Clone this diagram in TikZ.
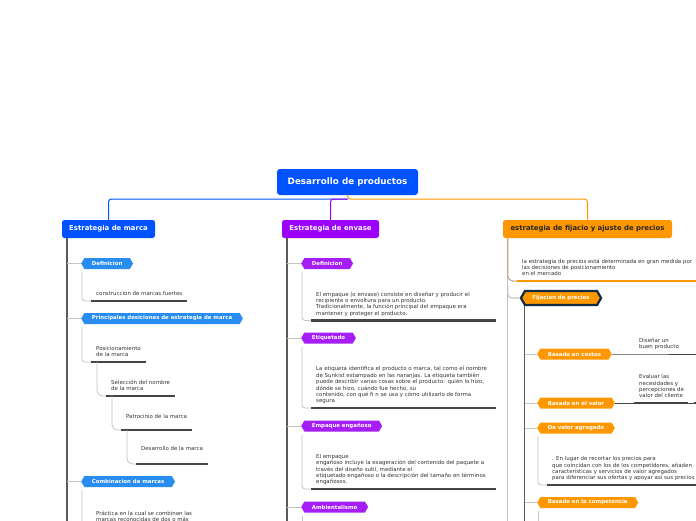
\documentclass[tikz,border=0pt]{standalone}
\usepackage{fontspec}
\setmainfont{DejaVu Sans}
\usetikzlibrary{shapes.symbols}
\definecolor{rootblue}{RGB}{0,82,255}
\definecolor{tagblue}{RGB}{40,140,240}
\definecolor{envpurple}{RGB}{155,0,250}
\definecolor{tagpurple}{RGB}{165,30,245}
\definecolor{precorange}{RGB}{255,152,0}
\definecolor{fijnavy}{RGB}{18,42,66}
\definecolor{inkgray}{RGB}{51,51,51}
\definecolor{bargray}{RGB}{68,68,68}
\definecolor{trunkgray}{RGB}{90,90,90}
\definecolor{twiggray}{RGB}{195,195,195}
\definecolor{tangray}{RGB}{185,160,125}

\tikzset{
  rootbox/.style={fill=rootblue, text=white, rounded corners=3pt,
    font=\fontsize{8.8}{9}\selectfont\bfseries,
    minimum width=141pt, minimum height=26pt, inner sep=0pt},
  colbox/.style={rounded corners=2.5pt, font=\fontsize{6.9}{7}\selectfont\bfseries,
    minimum height=18pt, inner sep=0pt},
  tag/.style={signal, signal to=west and east, signal pointer angle=120,
    anchor=west, minimum height=11pt, inner ysep=0pt, inner xsep=7.5pt,
    text=white, font=\fontsize{5.4}{6}\selectfont\bfseries},
  leaf/.style={anchor=south west, align=left, inner xsep=5pt, inner ysep=3.5pt,
    text depth=1.5pt, text=inkgray, font=\fontsize{5.45}{6.4}\selectfont},
  trunk/.style={trunkgray, line width=1.5pt},
  twig/.style={twiggray, line width=0.8pt},
  bar/.style={bargray, line width=2.5pt},
  thinlink/.style={bargray, line width=0.9pt},
}

\begin{document}
\begin{tikzpicture}[x=1pt, y=-1pt]
\path[fill=white] (0,0) rectangle (696,520);
\useasboundingbox (0,0) rectangle (696,520);

% root
\node[rootbox] (root) at (347.5,182) {Desarrollo de productos};
\node[colbox, fill=rootblue, text=white, minimum width=93pt] (marca) at (108.5,229) {Estrategia de marca};
\node[colbox, fill=envpurple, text=white, minimum width=97pt] (envase) at (330.5,229) {Estrategia de envase};
\node[colbox, fill=precorange, text=black!85, minimum width=169pt] (precios) at (587.5,229) {estrategia de fijacio y ajuste de precios};

\coordinate (hub) at (root.south |- 0,199);
\draw[rootblue, line width=1pt, rounded corners=3pt] (hub) -| (marca.north);
\draw[precorange, line width=1pt, rounded corners=3pt] (root.south) -- (hub) -| (precios.north);
\draw[envpurple, line width=1pt, rounded corners=3pt] (hub) -| (envase.north);

% marca
\coordinate (mtop) at ([xshift=5pt]marca.south west);
\draw[trunk] (mtop) -- (mtop |- 0,540);
\node[tag, fill=tagblue] (mdef) at (81,263.5) {Definicion};
\node[tag, fill=tagblue] (mdec) at (81,318.5) {Principales desiciones de estrategia de marca};
\node[tag, fill=tagblue] (mcomb) at (81,481.5) {Combinacion de marcas};
\foreach \t in {mdef,mdec,mcomb}
  \draw[twig] (mtop |- \t.west) -- (\t.west);

\node[leaf] (mfuertes) at (91,301) {construccion de marcas fuertes};
\draw[bar] (mfuertes.south west) -- ++(96,0);
\draw[twig, rounded corners=3pt] ([shift={(1,8.5)}]mdef.west) |- (mfuertes.south west);

\node[leaf] (mpos) at (91,362) {Posicionamiento\\de la marca};
\node[leaf] (mnom) at (106,396) {Selección del nombre\\de la marca};
\node[leaf, inner ysep=9.5pt] (mpat) at (121,430) {Patrocinio de la marca};
\node[leaf, inner ysep=11.5pt] (mdes) at (136,464) {Desarrollo de la marca};
\draw[bar] (mpos.south west) -- ++(55,0);
\draw[bar] (mnom.south west) -- ++(69,0);
\draw[bar] (mpat.south west) -- ++(71,0);
\draw[bar] (mdes.south west) -- ++(72,0);
\draw[twig, rounded corners=3pt] ([shift={(1,8.5)}]mdec.west) |- (mpos.south west);
\draw[twig, rounded corners=6pt] ([xshift=6pt]mpos.south west) |- (mnom.south west);
\draw[twig, rounded corners=6pt] ([xshift=6pt]mnom.south west) |- (mpat.south west);
\draw[twig, rounded corners=6pt] ([xshift=6pt]mpat.south west) |- (mdes.south west);

\node[leaf] (mprac) at (91,527) {Práctica en la cual se combinan las\\marcas reconocidas de dos o más};
\draw[bar] (mprac.south west) -- ++(110,0);
\draw[twig, rounded corners=3pt] ([shift={(1,8.5)}]mcomb.west) |- (mprac.south west);

% envase
\coordinate (etop) at ([xshift=5pt]envase.south west);
\draw[trunk] (etop) -- (etop |- 0,540);
\node[tag, fill=tagpurple] (edef) at (301,263.5) {Definicion};
\node[tag, fill=tagpurple] (eeti) at (301,338) {Etiquetado};
\node[tag, fill=tagpurple] (eeng) at (301,426) {Empaque engañoso};
\node[tag, fill=tagpurple] (eamb) at (301,507) {Ambientalismo};
\foreach \t in {edef,eeti,eeng,eamb}
  \draw[twig] (etop |- \t.west) -- (\t.west);

\node[leaf] (edeftxt) at (311,320.5) {El empaque (o envase) consiste en diseñar y producir el\\recipiente o envoltura para un producto.\\Tradicionalmente, la función principal del empaque era\\mantener y proteger el producto.};
\node[leaf] (eetitxt) at (311,408) {La etiqueta identifica el producto o marca, tal como el nombre\\de Sunkist estampado en las naranjas. La etiqueta también\\puede describir varias cosas sobre el producto: quién lo hizo,\\dónde se hizo, cuándo fue hecho, su\\contenido, con qué fi n se usa y cómo utilizarlo de forma\\segura};
\node[leaf] (eengtxt) at (311,489) {El empaque\\engañoso incluye la exageración del contenido del paquete a\\través del diseño sutil, mediante el\\etiquetado engañoso o la descripción del tamaño en términos\\engañosos.};
\foreach \t/\s in {edeftxt/edef,eetitxt/eeti,eengtxt/eeng}{
  \draw[bar] (\t.south west) -- ++(185,0);
  \draw[twig, rounded corners=3pt] ([shift={(1,8.5)}]\s.west) |- (\t.south west);
}
\coordinate (eambend) at (302,540);
\draw[twig] ([shift={(1,8.5)}]eamb.west) -- (eambend);

% precios
\coordinate (ptop) at ([xshift=5pt]precios.south west);
\draw[twig, line width=1.1pt] (ptop) -- (ptop |- 0,540);
\node[leaf] (pposic) at (517,281) {la estrategia de precios está determinada en gran medida por\\las decisiones de posicionamiento\\en el mercado};
\draw[precorange, line width=2.5pt] (pposic.south west) -- ++(200,0);
\draw[tangray, line width=1pt, rounded corners=5pt] (ptop) |- (pposic.south west);

\node[tag, fill=precorange, draw=fijnavy, line width=2.2pt, anchor=center,
  minimum height=14pt] (pfij) at (561,298) {Fijacion de precios};
\draw[twig, line width=1.1pt, rounded corners=4pt] (ptop |- 0,286) |- (pfij.west);

\coordinate (ftop) at ([xshift=5pt]pfij.west |- pfij.south);
\draw[trunk] (ftop) -- (ftop |- 0,540);
\node[tag, fill=precorange] (pcos) at (537,354) {Basado en costos};
\node[tag, fill=precorange] (pval) at (537,403) {Basado en el valor};
\node[tag, fill=precorange] (pagr) at (537,428) {De valor agregado};
\node[tag, fill=precorange] (pcomp) at (537,502.5) {Basado en la competencia};
\foreach \t in {pcos,pval,pagr,pcomp}
  \draw[twig] (ftop |- \t.west) -- (\t.west);

\node[leaf] (pdis) at (634,354) {Diseñar un\\buen producto};
\draw[thinlink] (pcos.east) -- (pdis.south west) -- ++(70,0);

\node[leaf] (peva) at (634,403) {Evaluar las\\necesidades y\\percepciones de\\valor del cliente};
\coordinate (pnext) at (694,403);
\draw[thinlink] (pval.east) -- (peva.south west);
\draw[bar] (peva.south west) -- ++(54,0);
\draw[thinlink] ([xshift=54pt]peva.south west) -- (pnext);
\draw[bar] (pnext) -- ++(10,0);

\node[leaf] (pdif) at (547,485) {. En lugar de recortar los precios para\\que coincidan con los de los competidores, añaden\\características y servicios de valor agregados\\para diferenciar sus ofertas y apoyar así sus precios};
\draw[bar] (pdif.south west) -- ++(160,0);
\draw[twig, rounded corners=3pt] ([shift={(1,8.5)}]pagr.west) |- (pdif.south west);

\coordinate (pcompend) at (538,540);
\draw[twig] ([shift={(1,8.5)}]pcomp.west) -- (pcompend);

\end{tikzpicture}
\end{document}
